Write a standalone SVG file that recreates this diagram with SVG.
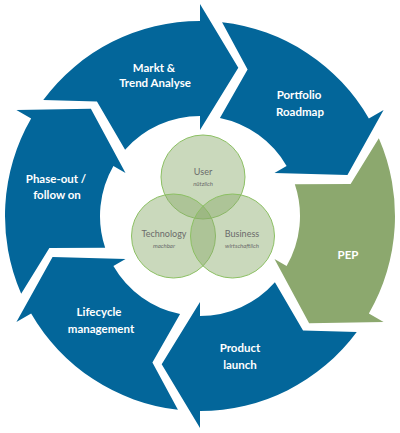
<svg xmlns="http://www.w3.org/2000/svg" width="400" height="433" viewBox="0 0 400 433">
<defs>
<path id="seg" d="M43.25,100.01 A195,195 0 0 1 200,21 L200,4 L238.31,67.87 L200,130 L200,116 A100,100 0 0 0 125.10,149.74 L96.95,101.56 Z"/>
</defs>
<style>
.blue{fill:#03669a}
.green{fill:#8ca86e}
.lbl{font-family:Lato,"Open Sans",sans-serif;font-weight:bold;font-size:11.5px;fill:#ffffff;text-anchor:middle}
.venn circle{fill:#8aaa6a;fill-opacity:0.45;stroke:#8cc063;stroke-width:1}
.vt{font-family:Lato,"Open Sans",sans-serif;font-size:9px;fill:#6b6b6b;text-anchor:middle}
.vs{font-family:Lato,"Open Sans",sans-serif;font-size:6px;font-style:italic;fill:#6b6b6b;text-anchor:middle}
</style>
<rect width="400" height="433" fill="#ffffff"/>
<g id="markt">
<use href="#seg" class="blue"/>
<text class="lbl" x="154" y="72">Markt &amp;</text>
<text class="lbl" x="155" y="87">Trend Analyse</text>
</g>
<g id="portfolio">
<use href="#seg" class="blue" transform="rotate(60 200 216)"/>
<text class="lbl" x="299" y="99">Portfolio</text>
<text class="lbl" x="300" y="116">Roadmap</text>
</g>
<g id="pep">
<use href="#seg" class="green" transform="rotate(120 200 216)"/>
<text class="lbl" x="348" y="259">PEP</text>
</g>
<g id="launch">
<use href="#seg" class="blue" transform="rotate(180 200 216)"/>
<text class="lbl" x="240" y="352">Product</text>
<text class="lbl" x="240" y="369">launch</text>
</g>
<g id="lifecycle">
<use href="#seg" class="blue" transform="rotate(240 200 216)"/>
<text class="lbl" x="99" y="316">Lifecycle</text>
<text class="lbl" x="101" y="333">management</text>
</g>
<g id="phaseout">
<use href="#seg" class="blue" transform="rotate(300 200 216)"/>
<text class="lbl" x="56" y="183">Phase-out /</text>
<text class="lbl" x="57" y="199">follow on</text>
</g>
<g class="venn">
<g id="user">
<circle cx="203" cy="177" r="42"/>
</g>
<g id="technology">
<circle cx="173.5" cy="236" r="42"/>
</g>
<g id="business">
<circle cx="232.5" cy="236" r="42"/>
</g>
<text class="vt" x="203" y="175">User</text>
<text class="vs" x="203" y="186">nützlich</text>
<text class="vt" x="164" y="237">Technology</text>
<text class="vs" x="164" y="248">machbar</text>
<text class="vt" x="242" y="237">Business</text>
<text class="vs" x="242" y="248">wirtschaftlich</text>
</g>
</svg>
